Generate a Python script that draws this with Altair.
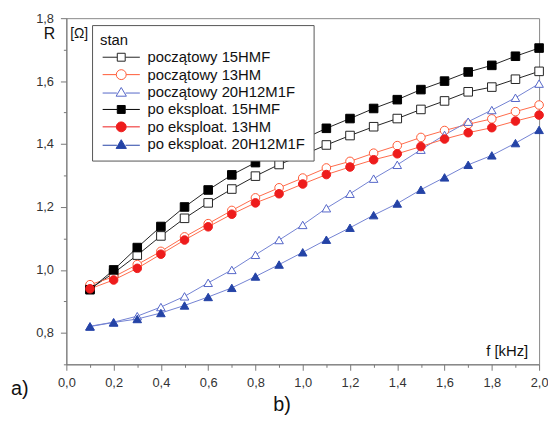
import altair as alt
import pandas as pd

# ---------------- data ----------------
freq = [0.1, 0.2, 0.3, 0.4, 0.5, 0.6, 0.7, 0.8, 0.9, 1.0,
        1.1, 1.2, 1.3, 1.4, 1.5, 1.6, 1.7, 1.8, 1.9, 2.0]

series_names = ["początowy 15HMF", "początowy 13HM", "początowy 20H12M1F",
                "po eksploat. 15HMF", "po eksploat. 13HM", "po eksploat. 20H12M1F"]

r_init_15hmf = [0.940, 0.990, 1.047, 1.108, 1.164, 1.213, 1.257, 1.298, 1.335, 1.365,
                1.397, 1.427, 1.455, 1.481, 1.510, 1.537, 1.566, 1.581, 1.606, 1.631]
r_init_13hm = [0.953, 0.978, 1.017, 1.059, 1.105, 1.147, 1.189, 1.229, 1.261, 1.292,
               1.324, 1.345, 1.371, 1.395, 1.421, 1.443, 1.463, 1.480, 1.503, 1.524]
r_init_20h = [0.821, 0.834, 0.853, 0.882, 0.916, 0.959, 1.000, 1.048, 1.095, 1.143,
              1.196, 1.242, 1.290, 1.334, 1.382, 1.429, 1.471, 1.508, 1.547, 1.592]
r_after_15hmf = [0.937, 1.000, 1.071, 1.138, 1.200, 1.254, 1.302, 1.341, 1.380, 1.415,
                 1.450, 1.481, 1.513, 1.541, 1.573, 1.600, 1.629, 1.650, 1.679, 1.705]
r_after_13hm = [0.940, 0.968, 1.005, 1.050, 1.095, 1.137, 1.177, 1.213, 1.242, 1.273,
                1.303, 1.327, 1.350, 1.369, 1.392, 1.416, 1.436, 1.452, 1.473, 1.492]
r_after_20h = [0.820, 0.833, 0.844, 0.863, 0.887, 0.914, 0.943, 0.979, 1.017, 1.056,
               1.096, 1.134, 1.174, 1.211, 1.255, 1.294, 1.334, 1.364, 1.403, 1.445]

x_tick_values = [0.0, 0.1, 0.2, 0.3, 0.4, 0.5, 0.6, 0.7, 0.8, 0.9, 1.0,
                 1.1, 1.2, 1.3, 1.4, 1.5, 1.6, 1.7, 1.8, 1.9, 2.0]
y_tick_values = [0.7, 0.8, 0.9, 1.0, 1.1, 1.2, 1.3, 1.4, 1.5, 1.6, 1.7, 1.8]

all_series = [r_init_15hmf, r_init_13hm, r_init_20h,
              r_after_15hmf, r_after_13hm, r_after_20h]

rows = []
for name, vals in zip(series_names, all_series):
    for fv, rv in zip(freq, vals):
        rows.append({"f": fv, "R": rv, "stan": name, "leg": name})
df = pd.DataFrame(rows)

# ---------------- styles ----------------
FONT = "Liberation Sans"
line_colors = ["#222222", "#ff6a4a", "#7282d2", "#222222", "#ff6a4a", "#7282d2"]
pt_strokes = ["#222222", "#ff5a36", "#5566c8", "#000000", "#ee1c1c", "#2443a6"]
pt_fills = ["#ffffff", "#ffffff", "#ffffff", "#000000", "#ee1c1c", "#2443a6"]
pt_shapes = ["square", "circle", "triangle-up", "square", "circle", "triangle-up"]

stub = "M-4.7,0H-1.05M1.05,0H4.7"
sq = "M-1,-1H1V1H-1Z"
circ = "M-1.25,0A1.25,1.25,0,1,0,1.25,0A1.25,1.25,0,1,0,-1.25,0Z"
tri = "M0,-1.15L1.3,1.05L-1.3,1.05Z"
stub_c = "M-4.7,0H-1.25M1.25,0H4.7"
stub_t = "M-4.7,0.25H-1.1M1.1,0.25H4.7"
leg_shapes = [stub + sq, stub_c + circ, stub_t + tri,
              stub + sq, stub_c + circ, stub_t + tri]

major_test = "round(datum.value*10) % 2 == 0"
tick_size = {"condition": {"test": major_test, "value": 6}, "value": 3}
label_expr = ("round(datum.value*10) % 2 == 0 ? "
              "replace(format(datum.value, '.1f'), '.', ',') : ''")

x_enc = alt.X("f:Q", scale=alt.Scale(domain=[0, 2.0], nice=False),
              axis=alt.Axis(values=x_tick_values, labelExpr=label_expr, title=None,
                            tickSize=tick_size, labelPadding=6, grid=False,
                            labelFlush=False, labelOverlap=False))
y_enc = alt.Y("R:Q", scale=alt.Scale(domain=[0.7, 1.8], nice=False, zero=False),
              axis=alt.Axis(values=y_tick_values, labelExpr=label_expr, title=None,
                            tickSize=tick_size, labelPadding=7, grid=False,
                            labelFlush=False, labelOverlap=False))

base = alt.Chart(df)

lines = base.mark_line(strokeWidth=1).encode(
    x=x_enc, y=y_enc,
    stroke=alt.Stroke("stan:N", scale=alt.Scale(domain=series_names, range=line_colors), legend=None),
    detail="stan:N",
)

points = base.mark_point(filled=True, opacity=1, strokeWidth=1, size=75).encode(
    x=x_enc, y=y_enc,
    shape=alt.Shape("stan:N", scale=alt.Scale(domain=series_names, range=pt_shapes), legend=None),
    fill=alt.Fill("stan:N", scale=alt.Scale(domain=series_names, range=pt_fills), legend=None),
    stroke=alt.Stroke("stan:N", scale=alt.Scale(domain=series_names, range=pt_strokes), legend=None),
)

legend = alt.Legend(
    title="stan", orient="none", legendX=26, legendY=7,
    fillColor="white", strokeColor="#555555", padding=8,
    titleFont=FONT, titleFontSize=15, titleFontWeight="normal", titleColor="#111111",
    titlePadding=2, labelFont=FONT, labelFontSize=15, labelColor="#111111",
    symbolSize=64, symbolStrokeWidth=1, symbolOpacity=1,
    symbolOffset=14, labelOffset=19, rowPadding=1.6, labelLimit=400,
)

legend_layer = base.mark_point(filled=True, opacity=0, strokeWidth=1).encode(
    x=x_enc, y=y_enc,
    shape=alt.Shape("leg:N", scale=alt.Scale(domain=series_names, range=leg_shapes), legend=legend),
    fill=alt.Fill("leg:N", scale=alt.Scale(domain=series_names, range=pt_fills), legend=legend),
    stroke=alt.Stroke("leg:N", scale=alt.Scale(domain=series_names, range=pt_strokes), legend=legend),
)


def note(text, px, py, size, align="center"):
    return alt.Chart(alt.Data(values=[{"t": text}])).mark_text(
        font=FONT, fontSize=size, align=align, baseline="middle", color="#111111"
    ).encode(text="t:N", x=alt.value(px), y=alt.value(py))


notes = [
    note("R", -17, 16, 16),
    note("[Ω]", 13, 16, 14),
    note("f [kHz]", 467, 337, 15, align="right"),
    note("a)", -47, 375, 20),
    note("b)", 218, 391, 20),
]

chart = alt.layer(lines, points, legend_layer, *notes).resolve_scale(
    stroke="independent", shape="independent", fill="independent"
).properties(
    width=478, height=350,
    autosize=alt.AutoSizeParams(type="none"),
    padding={"left": 59, "top": 8, "right": 9, "bottom": 52},
).configure(font=FONT).configure_view(
    stroke="#888888", strokeWidth=1
).configure_axis(
    labelFont=FONT, labelFontSize=13, labelColor="#333333",
    domainColor="#777777", tickColor="#777777", domainWidth=1, tickWidth=1,
)

chart.save("out.html", embed_options={"renderer": "svg", "actions": False})
